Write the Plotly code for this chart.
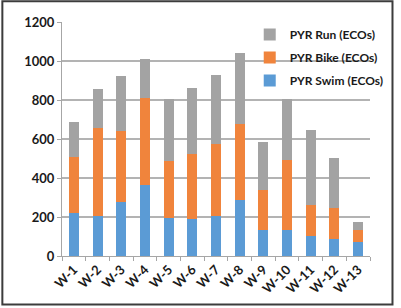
import plotly.graph_objects as go

weeks = ["W-1", "W-2", "W-3", "W-4", "W-5", "W-6", "W-7", "W-8", "W-9", "W-10", "W-11", "W-12", "W-13"]
swim = [222, 203, 278, 366, 194, 189, 203, 287, 134, 131, 104, 87, 70]
bike = [285, 456, 364, 444, 293, 336, 370, 392, 205, 359, 158, 161, 64]
run = [181, 199, 280, 201, 316, 336, 353, 361, 246, 315, 383, 256, 39]

fig = go.Figure()
fig.add_bar(x=weeks, y=swim, name="PYR Swim (ECOs)", marker=dict(color="#5b9bd5", line_width=0),
            legendgroup="a", legendrank=3)
fig.add_bar(x=weeks, y=bike, name="PYR Bike (ECOs)", marker=dict(color="#f0843c", line_width=0),
            legendgroup="b", legendrank=2)
fig.add_bar(x=weeks, y=run, name="PYR Run (ECOs)", marker=dict(color="#a3a3a3", line_width=0),
            legendgroup="c", legendrank=1)

L, T, R, B = 62, 22, 377, 258
W, H = 401, 308
pw, ph = R - L, B - T

def px(p):
    return (p - L) / pw

def py(p):
    return (B - p) / ph

fig.update_layout(
    width=W, height=H,
    margin=dict(l=L, r=W - R, t=T, b=H - B),
    barmode="stack", bargap=0.58,
    paper_bgcolor="white", plot_bgcolor="white",
    font=dict(family="Lato", size=13, color="#1a1a1a", weight="bold"),
    showlegend=True,
    legend=dict(x=px(254), y=py(20), xanchor="left", yanchor="top",
                traceorder="grouped", tracegroupgap=4,
                font=dict(size=12, family="Lato", weight="bold", color="#1a1a1a"),
                bgcolor="rgba(0,0,0,0)", itemwidth=30),
    xaxis=dict(tickangle=-45, showline=True, linecolor="#a6a6a6", linewidth=1,
               ticks="outside", tickson="boundaries", ticklen=4, tickcolor="#a6a6a6",
               tickfont=dict(size=13, weight="bold")),
    yaxis=dict(range=[0, 1200], dtick=200, showgrid=True, gridcolor="#b3b3b3", gridwidth=1.5,
               showline=True, linecolor="#a6a6a6", linewidth=1, ticks="outside", ticklen=4,
               tickcolor="#a6a6a6", tickfont=dict(size=13, weight="bold"), zeroline=False),
    shapes=[dict(type="rect", xref="paper", yref="paper",
                 x0=px(1), x1=px(W - 1), y0=py(H - 1), y1=py(1),
                 line=dict(color="#3c3c3c", width=2))],
)

fig.write_html("out.html", config={"displayModeBar": False},
               post_script="document.body.style.margin='0';document.body.style.padding='0';")
